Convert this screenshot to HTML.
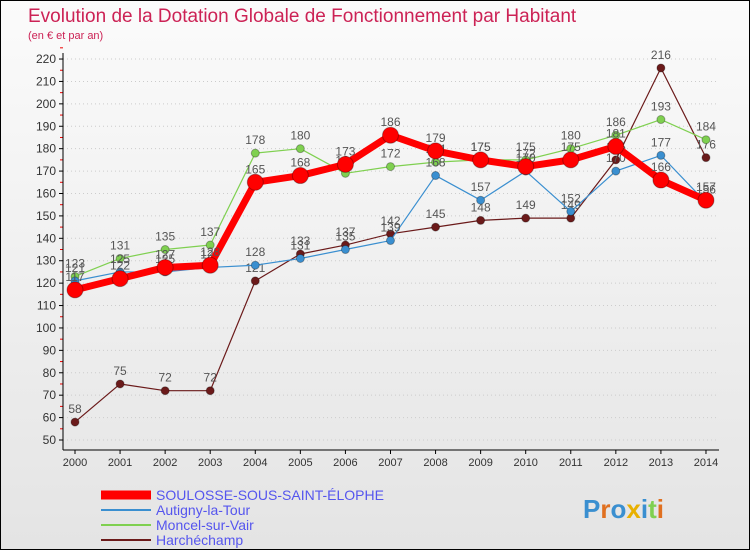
<!DOCTYPE html>
<html><head><meta charset="utf-8"><style>
body{margin:0;}
#wrap{width:748px;height:548px;border:1px solid #000;background:linear-gradient(#fbfbfb,#e4e4e4);position:relative;overflow:hidden;font-family:"Liberation Sans",sans-serif;}
</style></head><body>
<div id="wrap">
<svg id="chart" width="748" height="548"></svg>
</div>
<script>
const years=["2000","2001","2002","2003","2004","2005","2006","2007","2008","2009","2010","2011","2012","2013","2014"];
const soulosse=[117,122,127,128,165,168,173,186,179,175,172,175,181,166,157];
const autigny=[121,125,125,127,128,131,135,139,168,157,170,152,170,177,156];
const moncel=[123,131,135,137,178,180,169,172,174,175,175,180,186,193,184];
const harche=[58,75,72,72,121,133,137,142,145,148,149,149,175,216,176];
const yTicks=[50,60,70,80,90,100,110,120,130,140,150,160,170,180,190,200,210,220];
const seriesNames=["SOULOSSE-SOUS-SAINT-ÉLOPHE","Autigny-la-Tour","Moncel-sur-Vair","Harchéchamp"];
const NS="http://www.w3.org/2000/svg";
const svg=document.getElementById('chart');
function X(i){return 74+i*45.07;}
function Y(v){return 439-(v-50)*2.241;}
function mk(t,a,p){const e=document.createElementNS(NS,t);for(const k in a)e.setAttribute(k,a[k]);(p||svg).appendChild(e);return e;}
let e;
e=mk('text',{x:27,y:21,'font-size':19,fill:'#cc2255'});e.textContent="Evolution de la Dotation Globale de Fonctionnement par Habitant";


e=mk('text',{x:27,y:38,'font-size':11,fill:'#cc2255'});e.textContent="(en € et par an)";


yTicks.forEach(v=>{
 e=mk('line',{x1:62,x2:718,y1:Y(v),y2:Y(v),stroke:'#ccc','stroke-dasharray':'1,3'});
 
 
 e=mk('line',{x1:58,x2:62,y1:Y(v),y2:Y(v),stroke:'#000'});
 
 
 e=mk('line',{x1:59,x2:62,y1:Y(v+5),y2:Y(v+5),stroke:'#e00'});
 
 
 e=mk('text',{x:55,y:Y(v)+4,'font-size':12,fill:'#333','text-anchor':'end'});e.textContent=v;
 
 
});
e=mk('line',{x1:62,x2:62,y1:52,y2:449,stroke:'#000'});


e=mk('line',{x1:62,x2:718,y1:449,y2:449,stroke:'#000'});


years.forEach((y,i)=>{
 e=mk('line',{x1:X(i),x2:X(i),y1:449,y2:453,stroke:'#000'});
 
 
 e=mk('text',{x:X(i),y:465,'font-size':11,fill:'#333','text-anchor':'middle'});e.textContent=y;
 
 
});
function series(data,color,w,r,name){
 const g=mk('g',{});
 
 
 e=mk('polyline',{points:data.map((v,i)=>X(i)+','+Y(v)).join(' '),fill:'none',stroke:color,'stroke-width':w,'stroke-linejoin':'round'},g);
 
 
 data.forEach((v,i)=>{
  e=mk('circle',{cx:X(i),cy:Y(v),r:r,fill:color,stroke:'rgba(0,0,0,0.3)','stroke-width':1},g);
  
  
  e=mk('text',{x:X(i),y:Y(v)-9,'font-size':12,fill:'#555','text-anchor':'middle'},g);e.textContent=v;
  
  
 });
}
series(harche,'#6b1a1a',1.2,4,'harchechamp-series');
series(moncel,'#7fd050',1.2,4,'moncel-series');
series(autigny,'#3a8fd0',1.2,4,'autigny-series');
series(soulosse,'#ff0000',7,8,'soulosse-series');
const lc=['#ff0000','#3a8fd0','#7fd050','#6b1a1a'];const lw=[9,2,2,2];
seriesNames.forEach((n,i)=>{
 const y=494+i*15;
 e=mk('line',{x1:100,x2:150,y1:y,y2:y,stroke:lc[i],'stroke-width':lw[i]});
 
 
 e=mk('text',{x:155,y:y+5,'font-size':14,fill:'#5555ee'});e.textContent=n;
 
 
});
const logo=mk('text',{x:582,y:517,'font-size':26,'font-weight':'bold'});


[["P","#3a8fd0"],["r","#e07020"],["o","#3a8fd0"],["x","#e8b000"],["i","#3a8fd0"],["t","#7fd050"],["i","#e07020"]].forEach(([c,col])=>{
 const s=mk('tspan',{fill:col},logo);s.textContent=c;
});
</script>
</body></html>
